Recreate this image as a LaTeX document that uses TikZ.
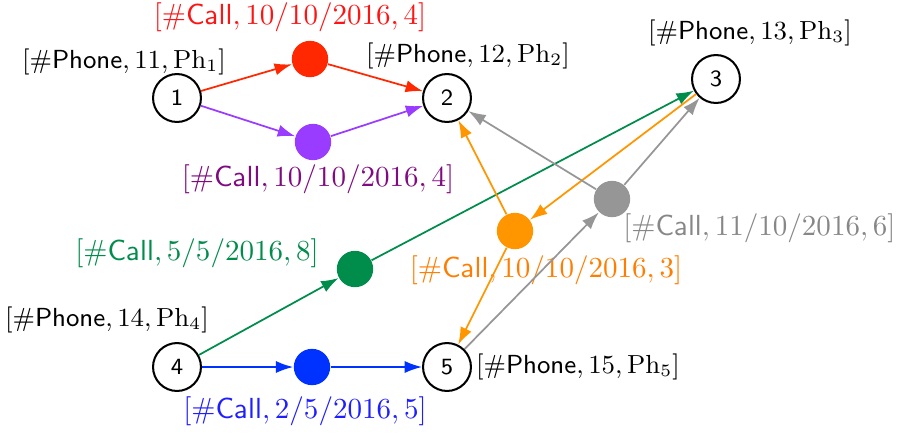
\documentclass[tikz,border=0pt]{standalone}
\usetikzlibrary{arrows.meta}

\definecolor{callred}{RGB}{255,40,0}
\definecolor{txtred}{RGB}{255,20,20}
\definecolor{callpurple}{RGB}{153,60,255}
\definecolor{txtpurple}{RGB}{128,10,128}
\definecolor{callgreen}{RGB}{0,140,75}
\definecolor{callblue}{RGB}{0,50,255}
\definecolor{txtblue}{RGB}{30,30,255}
\definecolor{callorange}{RGB}{255,150,0}
\definecolor{txtorange}{RGB}{255,125,0}
\definecolor{callgray}{RGB}{150,150,150}
\definecolor{txtgray}{RGB}{135,135,135}

\tikzstyle{phone} = [draw=black, circle, line width=0.7pt, minimum size=0.58cm, inner sep=0, font=\sffamily\footnotesize]
\tikzstyle{phonetxt} = [font=\small]
\tikzstyle{call} = [circle, minimum size=0.44cm, inner sep=0]
\tikzstyle{link} = [line width=0.6pt, -{Latex[length=6pt,width=4.2pt]}]

\newcommand{\phonelbl}[2]{$[\#\mathsf{Phone},#1,\mathrm{Ph}_{#2}]$}
\newcommand{\calllbl}[2]{$[\#\mathsf{Call},#1,#2]$}

\begin{document}
\begin{tikzpicture}[x=0.0121cm, y=-0.0121cm]
\useasboundingbox (0,0) rectangle (900,436);

%   phones
	\node[phone] (p1) at (177,98)  {1};
	\node[phone] (p2) at (447,98)  {2};
	\node[phone] (p3) at (716,79)  {3};
	\node[phone] (p4) at (177,367) {4};
	\node[phone] (p5) at (447,367) {5};

	\node[phonetxt] (l1) at (124,62)  {\phonelbl{11}{1}};
	\node[phonetxt] (l2) at (468,56)  {\phonelbl{12}{2}};
	\node[phonetxt] (l3) at (750,33)  {\phonelbl{13}{3}};
	\node[phonetxt] (l4) at (107,320) {\phonelbl{14}{4}};
	\node[phonetxt] (l5) at (578,367) {\phonelbl{15}{5}};

%   calls
	\node[call, fill=callred]    (cr) at (310,59)  {};
	\node[call, fill=callpurple] (cp) at (313,142) {};
	\node[call, fill=callgreen]  (cg) at (355,269) {};
	\node[call, fill=callblue]   (cb) at (312,367) {};
	\node[call, fill=callorange] (co) at (515,231) {};
	\node[call, fill=callgray]   (ck) at (612,199) {};

	\node[text=txtred]    (tr) at (290,17)  {\calllbl{10/10/2016}{4}};
	\node[text=txtpurple] (tp) at (318,179) {\calllbl{10/10/2016}{4}};
	\node[text=callgreen] (tg) at (197,253) {\calllbl{5/5/2016}{8}};
	\node[text=txtblue]   (tb) at (305,411) {\calllbl{2/5/2016}{5}};
	\node[text=txtorange] (to) at (546,270) {\calllbl{10/10/2016}{3}};
	\node[text=txtgray, anchor=west] (tk) at (613,228) {\calllbl{11/10/2016}{6}};

%   links
	\draw[link, callred]    (p1) -- (cr);
	\draw[link, callred]    (cr) -- (p2);
	\draw[link, callpurple] (p1) -- (cp);
	\draw[link, callpurple] (cp) -- (p2);
	\draw[link, callgreen]  (p4) -- (cg);
	\draw[link, callgreen]  (cg) -- (p3);
	\draw[link, callblue]   (p4) -- (cb);
	\draw[link, callblue]   (cb) -- (p5);
	\draw[link, callorange] (p3) -- (co);
	\draw[link, callorange] (co) -- (p2);
	\draw[link, callorange] (co) -- (p5);
	\draw[link, callgray]   (p5) -- (ck);
	\draw[link, callgray]   (ck) -- (p2);
	\draw[link, callgray]   (ck) -- (p3);

\end{tikzpicture}
\end{document}
